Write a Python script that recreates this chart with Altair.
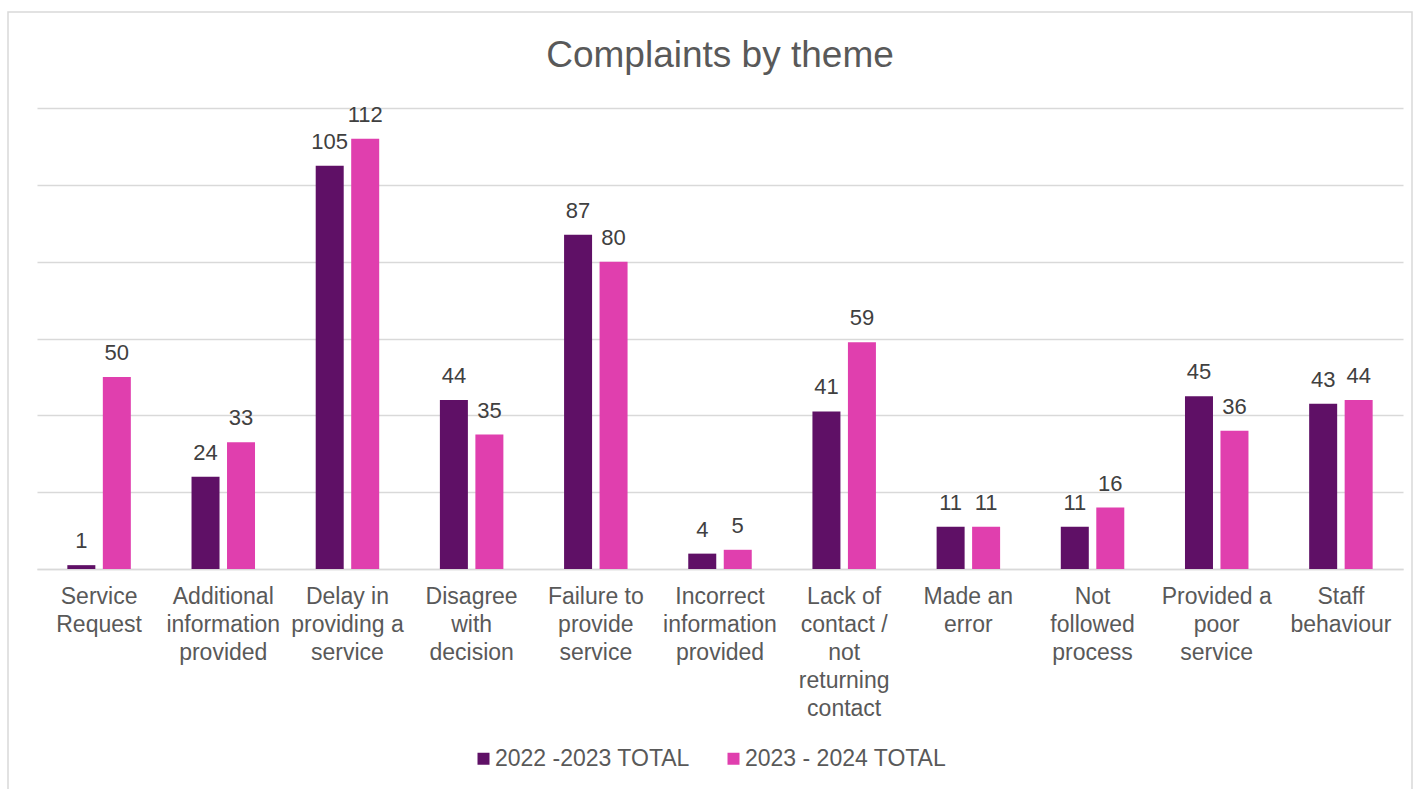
import json
import altair as alt
import pandas as pd

categories = [
    "Service Request",
    "Additional information provided",
    "Delay in providing a service",
    "Disagree with decision",
    "Failure to provide service",
    "Incorrect information provided",
    "Lack of contact / not returning contact",
    "Made an error",
    "Not followed process",
    "Provided a poor service",
    "Staff behaviour",
]
label_lines = [
    ["Service", "Request"],
    ["Additional", "information", "provided"],
    ["Delay in", "providing a", "service"],
    ["Disagree", "with", "decision"],
    ["Failure to", "provide", "service"],
    ["Incorrect", "information", "provided"],
    ["Lack of", "contact /", "not", "returning", "contact"],
    ["Made an", "error"],
    ["Not", "followed", "process"],
    ["Provided a", "poor", "service"],
    ["Staff", "behaviour"],
]
series = ["2022 -2023 TOTAL", "2023 - 2024 TOTAL"]
values_2022_23 = [1, 24, 105, 44, 87, 4, 41, 11, 11, 45, 43]
values_2023_24 = [50, 33, 112, 35, 80, 5, 59, 11, 16, 36, 44]
colors = ["#5F1066", "#E03FAE"]
grid_values = [0, 20, 40, 60, 80, 100, 120]

rows = []
for c, a, b in zip(categories, values_2022_23, values_2023_24):
    rows.append({"theme": c, "series": series[0], "value": a})
    rows.append({"theme": c, "series": series[1], "value": b})
df = pd.DataFrame(rows)

label_expr = f"{json.dumps(label_lines)}[indexof({json.dumps(categories)}, datum.value)]"

FONT = "Liberation Sans"

x_enc = alt.X(
    "theme:N",
    sort=categories,
    scale=alt.Scale(paddingInner=0, paddingOuter=0),
    axis=alt.Axis(
        title=None,
        labelExpr=label_expr,
        labelAngle=0,
        labelFontSize=23,
        labelColor="#595959",
        labelFont=FONT,
        labelLineHeight=28,
        labelPadding=16,
        labelBaseline="top",
        labelLimit=0,
        ticks=False,
        domainColor="#d9d9d9",
        domainWidth=1.5,
        grid=False,
    ),
)
xoff_enc = alt.XOffset(
    "series:N",
    sort=series,
    scale=alt.Scale(paddingInner=0.211, paddingOuter=0.855),
)
y_enc = alt.Y(
    "value:Q",
    scale=alt.Scale(domain=[0, 120], nice=False),
    axis=alt.Axis(
        title=None,
        labels=False,
        ticks=False,
        domain=False,
        values=grid_values,
        gridColor="#d9d9d9",
        gridWidth=1.5,
    ),
)

base = alt.Chart(df)

bars = base.mark_bar().encode(
    x=x_enc,
    xOffset=xoff_enc,
    y=y_enc,
    color=alt.Color(
        "series:N",
        sort=series,
        scale=alt.Scale(domain=series, range=colors),
        legend=alt.Legend(
            title=None,
            orient="none",
            legendX=435,
            legendY=639,
            direction="horizontal",
            symbolType="square",
            symbolSize=144,
            symbolStrokeWidth=0,
            labelFontSize=23,
            labelColor="#595959",
            labelFont=FONT,
            labelOffset=0,
            labelLimit=0,
            columnPadding=32,
        ),
    ),
)

labels = base.mark_text(
    baseline="alphabetic",
    dy=-17,
    fontSize=22,
    color="#404040",
    font=FONT,
).encode(
    x=x_enc,
    xOffset=xoff_enc,
    y=y_enc,
    text="value:Q",
)

frame = alt.Chart(pd.DataFrame({"a": [0]})).mark_rect(
    filled=False, stroke="#d9d9d9", strokeWidth=1.5
).encode(
    x=alt.value(-29), x2=alt.value(1375), y=alt.value(-96), y2=alt.value(690)
)

chart = (
    alt.layer(frame, bars, labels)
    .properties(
        width=1366,
        height=461,
        padding={"left": 37, "top": 108, "right": 19, "bottom": 220},
        autosize=alt.AutoSizeParams(type="none"),
        title=alt.TitleParams(
            "Complaints by theme",
            fontSize=37,
            color="#595959",
            font=FONT,
            fontWeight="normal",
            anchor="middle",
            offset=-64,
        ),
    )
    .configure_view(strokeWidth=0)
)

chart.save("out.html", embed_options={"renderer": "svg", "actions": False})
